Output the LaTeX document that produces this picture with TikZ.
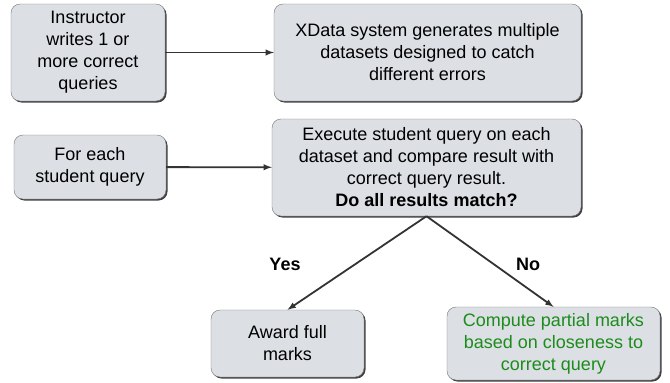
\documentclass[tikz,border=0pt]{standalone}
\usepackage{fontspec}
\setmainfont{Liberation Sans}
\usepackage{tikz}
\usetikzlibrary{arrows,shadows}
\definecolor{boxgray}{HTML}{DCDFE4}
\definecolor{markgreen}{HTML}{1C8C1C}
\begin{document}
\begin{tikzpicture}[x=1pt,y=-1pt, box/.style={draw=black!55,fill=boxgray,rounded corners=9pt,align=center,inner sep=2pt,font=\fontsize{18}{22}\selectfont,drop shadow={shadow xshift=1.5pt,shadow yshift=-1.5pt,fill=black!75,opacity=1}},lnk/.style={-latex,draw=black!80,line width=1.8pt}]
              \useasboundingbox (0,0) rectangle (670,383);
              \node[box,minimum width=154pt,minimum height=97pt] (a1) at (88,52.5) {Instructor\\writes 1 or\\more correct\\queries};
              \node[box,minimum width=307pt,minimum height=97pt] (a2) at (427.5,52.5) {XData system generates multiple\\datasets designed to catch\\different errors};

              \node[box,minimum width=152pt,minimum height=64pt] (b1) at (90,167) {For each\\student query};
              \node[box,minimum width=309pt,minimum height=97pt] (b2) at (426.5,167.5) {Execute student query on each\\dataset and compare result with\\correct query result.\\\textbf{Do all results match?}};

              \node[box,minimum width=153pt,minimum height=67pt] (c1) at (287.5,343.5) {Award full\\marks};
              \node[box,minimum width=213pt,minimum height=73pt,text=markgreen] (c2) at (553.5,343.5) {Compute partial marks\\based on closeness to\\correct query};

              \draw[lnk] (a1) -- (a2);
              \draw[lnk] (b1) -- (b2);
              \draw[lnk] (b2.south) -- (c1.north);
              \draw[lnk] (b2.south) -- (c2.north);
              \node[font=\fontsize{18}{22}\selectfont\bfseries] (yes) at (285,264) {Yes};
              \node[font=\fontsize{18}{22}\selectfont\bfseries] (no) at (528,264) {No};
            \end{tikzpicture}
\end{document}
